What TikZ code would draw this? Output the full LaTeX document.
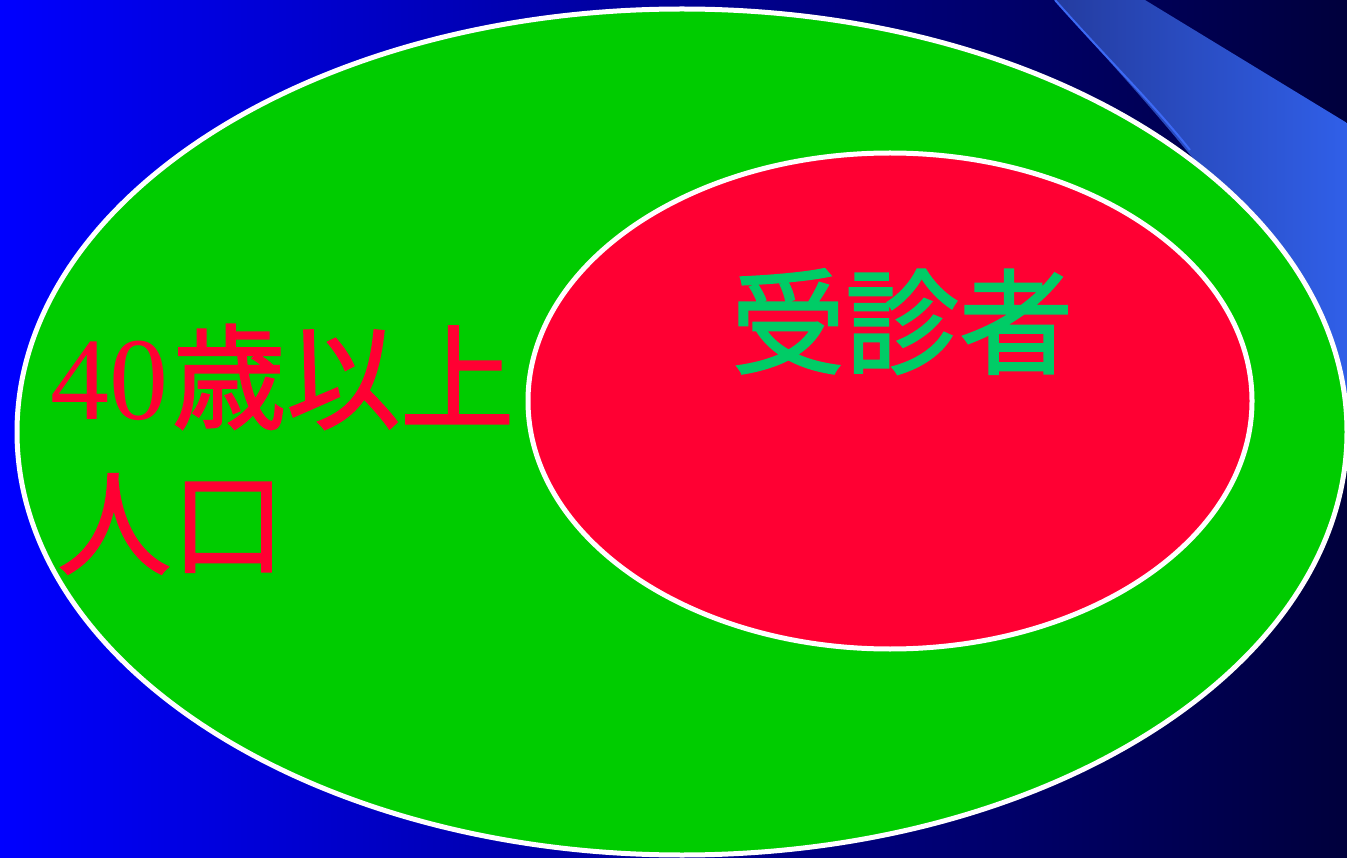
\documentclass[tikz,border=0pt]{standalone}
\usepackage{fontspec}
\usetikzlibrary{shapes.geometric}
\setmainfont{Liberation Serif}
\newfontfamily\cjk[FakeBold=1.6]{Noto Sans CJK JP}
\definecolor{bgl}{RGB}{0,0,255}
\definecolor{bgm}{RGB}{0,0,150}
\definecolor{bgr}{RGB}{0,0,60}
\definecolor{bandl}{RGB}{36,60,160}
\definecolor{bandr}{RGB}{48,95,232}
\definecolor{bandedge}{RGB}{60,105,245}
\definecolor{outergreen}{RGB}{0,204,0}
\definecolor{innerred}{RGB}{255,0,51}
\definecolor{textred}{RGB}{255,0,51}
\definecolor{textgreen}{RGB}{0,204,102}
\newcommand{\cjkbig}{\cjk\fontsize{114}{135}\selectfont}
\tikzset{
  setbox/.style={draw=white, line width=5pt},
  redlabel/.style={text=textred, font=\fontsize{118}{135}\selectfont, inner sep=0pt, anchor=base west},
  greenlabel/.style={text=textgreen, font=\cjkbig, inner sep=0pt, anchor=base west}
}
\begin{document}
\begin{tikzpicture}[x=1pt,y=-1pt]
\useasboundingbox (0,0) rectangle (1347,858);
\shade[left color=bgl, right color=bgr, middle color=bgm] (0,0) rectangle (1347,858);
% swoosh band
\shade[left color=bandl, right color=bandr]
  (1055,0) -- (1145,0) -- (1347,123) -- (1347,430)
  .. controls (1300,260) and (1160,120) .. (1055,0) -- cycle;
\draw[bandedge, line width=2pt] (1055,0) .. controls (1110,62) and (1150,100) .. (1190,150);
% outer set
\node[ellipse, setbox, fill=outergreen, minimum width=1330pt, minimum height=846pt, inner sep=0pt] (outer) at (682,432) {};
% inner set
\node[ellipse, setbox, fill=innerred, minimum width=724pt, minimum height=496pt, inner sep=0pt] (inner) at (890,401) {};
% labels
\node[redlabel] (l1) at (50,420) {40\hspace{4pt}{\cjkbig 歳以上}};
\node[redlabel] (l2) at (57,566) {\cjkbig 人口};
\node[greenlabel] (l3) at (731,365) {受診者};
\end{tikzpicture}
\end{document}
